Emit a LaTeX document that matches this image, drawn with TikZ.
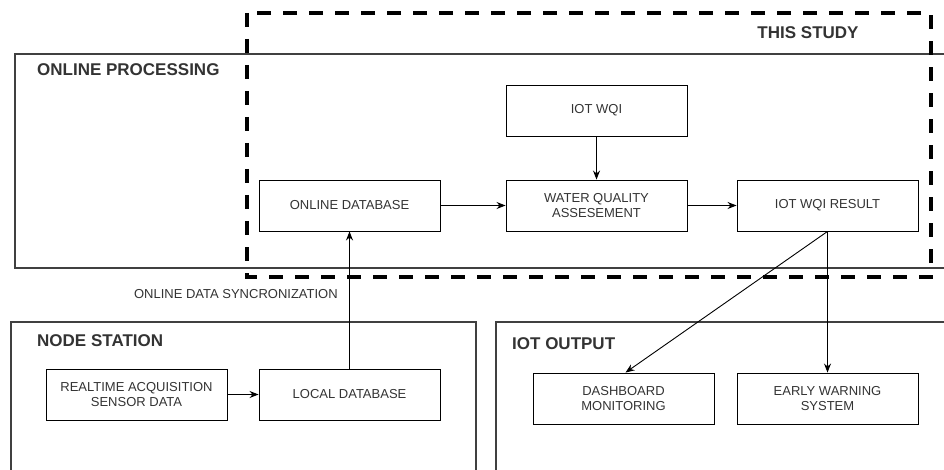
\documentclass[tikz,border=0pt]{standalone}
\usepackage{fontspec}
\setmainfont{Liberation Sans}
\usetikzlibrary{arrows.meta}

\definecolor{txtgray}{HTML}{333333}
\definecolor{linegray}{HTML}{404040}

\begin{document}
\begin{tikzpicture}[x=1pt, y=-1pt,
  box/.style={draw=black, line width=0.9pt, minimum width=181pt, minimum height=51pt,
    align=center, text=txtgray, inner sep=2pt, font=\fontsize{13}{15.5}\selectfont},
  group/.style={draw=linegray, line width=1.1pt},
  grouplabel/.style={anchor=west, text=txtgray, inner sep=0pt, font=\fontsize{17}{19}\selectfont\bfseries},
  flow/.style={-{Stealth[length=9pt, width=7pt]}, line width=0.9pt}]
\useasboundingbox (0,0) rectangle (944,470);
\clip (0,0) rectangle (944,470);

% groups
\draw[group] (15,54) rectangle (960,268);
\draw[group] (11,322) rectangle (476,480);
\draw[group] (496,322) rectangle (960,480);

\node[grouplabel] (lonline) at (37,70) {ONLINE PROCESSING};
\node[grouplabel] (lnode) at (37,341) {NODE STATION};
\node[grouplabel] (loutput) at (512,344) {IOT OUTPUT};

% this study
\draw[line width=4.3pt, dash pattern=on 14pt off 12pt] (247,13) rectangle (931,277);
\node[grouplabel, anchor=center] (lstudy) at (808,33) {THIS STUDY};

% boxes
\node[box] (onlinedb) at (349.5,205.5) {ONLINE DATABASE};
\node[box] (iotwqi) at (596.5,110.5) {IOT WQI};
\node[box] (wqa) at (596.5,205.5) {WATER QUALITY\\ASSESEMENT};
\node[box] (result) at (827.5,205.5) {IOT WQI RESULT};

\node[box] (sensor) at (136.5,394.5) {REALTIME ACQUISITION\\SENSOR DATA};
\node[box] (localdb) at (349.5,394.5) {LOCAL DATABASE};

\node[box] (dashboard) at (623.5,398.5) {DASHBOARD\\MONITORING};
\node[box] (warning) at (827.5,398.5) {EARLY WARNING\\SYSTEM};

%arrows
\draw[flow] (sensor) -- (localdb);
\draw[flow] (localdb.north) -- (onlinedb.south)
  node[pos=0.54, left=8pt, text=txtgray, font=\fontsize{13}{15}\selectfont] (lsync) {ONLINE DATA SYNCRONIZATION};
\draw[flow] (onlinedb) -- (wqa);
\draw[flow] (iotwqi) -- (wqa);
\draw[flow] (wqa) -- (result);
\draw[flow] (result.south) -- ([xshift=2pt]dashboard.north);
\draw[flow] (result.south) -- (warning.north);
\end{tikzpicture}
\end{document}
